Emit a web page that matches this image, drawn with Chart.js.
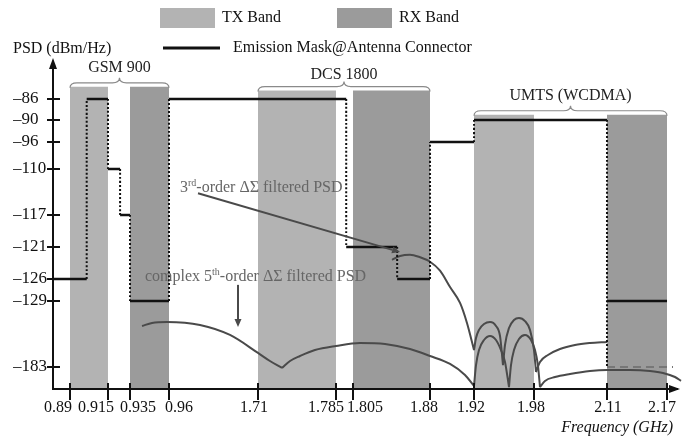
<!DOCTYPE html>
<html>
<head>
<meta charset="utf-8">
<script src="https://cdn.jsdelivr.net/npm/chart.js@4.4.1/dist/chart.umd.min.js"></script>
<style>
  html, body { margin: 0; padding: 0; background: #fff; }
</style>
</head>
<body>
<canvas id="psdChart" width="686" height="438"></canvas>
<script>
// ---- data ----
const xTicks = [0.89, 0.915, 0.935, 0.96, 1.71, 1.785, 1.805, 1.88, 1.92, 1.98, 2.11, 2.17]; // GHz
const yTicks = [-86, -90, -96, -110, -117, -121, -126, -129, -183]; // dBm/Hz

const bandNames = ["GSM 900", "DCS 1800", "UMTS (WCDMA)"];
const txBands = [[0.89, 0.915], [1.71, 1.785], [1.92, 1.98]];
const rxBands = [[0.935, 0.96], [1.805, 1.88], [2.11, 2.17]];
const bandTop = [-83.7, -84.4, -89.0];

// emission mask, steps (null = break)
const maskFreq = [0.8788, 0.901, 0.901, 0.915, 0.915, 0.926, 0.926, 0.935, 0.935, 0.96, 0.96, 1.797, 1.797, 1.848, 1.848, 1.88, 1.88, 1.92, 1.92, 2.11, 2.11, 2.11, 2.11, 2.17];
const maskLevel = [-126, -126, -86, -86, -110, -110, -117, -117, -129, -129, -86, -86, -121, -121, -126, -126, -96, -96, -90, -90, -183, null, -129, -129];

const floorFreq = [2.11, 2.176];
const floorLevel = [-183, -183];

// 3rd-order filtered PSD (arcs split at nulls)
const psd3Freq = [
  1.843, 1.8508, 1.8605, 1.8703, 1.88, 1.8891, 1.8982, 1.9073, 1.9136, 1.92,
  1.92,
  1.92, 1.922, 1.925, 1.930, 1.936, 1.942, 1.946, 1.949,
  1.949,
  1.949, 1.951, 1.955, 1.960, 1.965, 1.971, 1.976, 1.98, 1.9836,
  1.9836,
  1.9836, 1.9907, 2.0049, 2.0263, 2.053, 2.0797, 2.11
];
const psd3Level = [
  -123.0, -122.4, -122.2, -122.6, -123.3, -124.7, -127.1, -130.6, -147.0, -169.1,
  null,
  -169.1, -159.3, -152.6, -147.8, -146.2, -149.4, -157.6, -181.4,
  null,
  -181.4, -165.0, -151.1, -144.5, -142.9, -145.4, -152.6, -169.1, -187.1,
  null,
  -187.1, -178.9, -173.2, -168.3, -165.0, -163.4, -162.5
];

// complex 5th-order filtered PSD
const psd5Freq = [
  0.9427, 0.9491, 0.9587, 1.2212, 1.474, 1.71, 1.7215, 1.7331,
  1.7331,
  1.7331, 1.7408, 1.7504, 1.7648, 1.785, 1.8118, 1.8362, 1.8605, 1.88, 1.8982, 1.9118, 1.92,
  1.92,
  1.92, 1.922, 1.925, 1.930, 1.936, 1.942, 1.947, 1.951, 1.955,
  1.955,
  1.955, 1.957, 1.960, 1.965, 1.971, 1.977, 1.9818, 1.987, 1.9907,
  1.9907,
  1.9907, 1.9996, 2.0174, 2.0441, 2.0797, 2.11, 2.133, 2.153, 2.166, 2.178, 2.184,
  2.184,
  2.184, 2.186, 2.189
];
const psd5Level = [
  -149.4, -147.0, -146.2, -148.6, -156.8, -171.5, -178.1, -183.8,
  null,
  -183.8, -178.1, -174.0, -169.1, -165.8, -163.4, -164.2, -168.3, -174.0, -180.5, -189.5, -198.5,
  null,
  -198.5, -181.4, -169.1, -160.9, -157.6, -160.9, -169.1, -178.9, -199.4,
  null,
  -199.4, -181.4, -169.1, -160.1, -156.8, -160.9, -169.1, -181.4, -199.4,
  null,
  -199.4, -194.4, -191.2, -188.7, -186.3, -185.5, -185.5, -186.3, -187.9, -191.2, -194.4,
  null,
  -194.4, -189.5, -175.6
];

// ---- broken (piecewise) axes ----
const axisBreaks = {
  x: {
    vals: [0.8788, 0.89, 0.915, 0.935, 0.96, 1.71, 1.785, 1.805, 1.88, 1.92, 1.98, 2.11, 2.17, 2.18],
    fracs: [0, 0.0272, 0.0881, 0.1234, 0.1859, 0.3285, 0.4535, 0.4808, 0.6042, 0.6747, 0.7708, 0.8878, 0.984, 1],
  },
  y: {
    vals: [-201, -183, -129, -126, -121, -117, -110, -96, -90, -86, -79],
    fracs: [0, 0.0673, 0.2691, 0.3364, 0.4343, 0.5321, 0.6728, 0.7554, 0.8226, 0.8869, 1],
  },
};

function toFrac(b, v) {
  let i = 0;
  while (i < b.vals.length - 2 && v > b.vals[i + 1]) i++;
  const t = (v - b.vals[i]) / (b.vals[i + 1] - b.vals[i]);
  return b.fracs[i] + t * (b.fracs[i + 1] - b.fracs[i]);
}
function fromFrac(b, f) {
  let i = 0;
  while (i < b.fracs.length - 2 && f > b.fracs[i + 1]) i++;
  const t = (f - b.fracs[i]) / (b.fracs[i + 1] - b.fracs[i]);
  return b.vals[i] + t * (b.vals[i + 1] - b.vals[i]);
}

class BrokenScale extends Chart.LinearScale {
  getPixelForValue(value) {
    if (value === null || value === undefined || isNaN(value)) return NaN;
    return this.getPixelForDecimal(toFrac(axisBreaks[this.id], value));
  }
  getValueForPixel(pixel) {
    return fromFrac(axisBreaks[this.id], this.getDecimalForPixel(pixel));
  }
}
BrokenScale.id = "broken";
BrokenScale.defaults = Chart.LinearScale.defaults;
Chart.register(BrokenScale);

// ---- styles ----
const SERIF = '"Liberation Serif", "DejaVu Serif", serif';
const TX_COLOR = "#b3b3b3";
const RX_COLOR = "#9b9b9b";
const INK = "#111";
const CURVE = "#4a4a4a";
const NOTE = "#666";
const xLabelShift = [-12, -12, 8, 10, -4, -10, 12, -6, -3, -3, 1, -5];

const pts = (xs, ys) => xs.map((f, i) => ({ x: f, y: ys[i] }));

const datasets = [];
txBands.forEach((b, i) => {
  datasets.push({
    label: "TX Band",
    data: [{ x: b[0], y: bandTop[i] }, { x: b[1], y: bandTop[i] }],
    fill: "start", backgroundColor: TX_COLOR, borderColor: "transparent",
    borderWidth: 0, pointRadius: 0, order: 10,
  });
});
rxBands.forEach((b, i) => {
  datasets.push({
    label: "RX Band",
    data: [{ x: b[0], y: bandTop[i] }, { x: b[1], y: bandTop[i] }],
    fill: "start", backgroundColor: RX_COLOR, borderColor: "transparent",
    borderWidth: 0, pointRadius: 0, order: 10,
  });
});
datasets.push({
  label: "3rd-order filtered PSD",
  data: pts(psd3Freq, psd3Level),
  borderColor: CURVE, borderWidth: 2, pointRadius: 0,
  cubicInterpolationMode: "monotone", fill: false, clip: false, order: 4,
});
datasets.push({
  label: "complex 5th-order filtered PSD",
  data: pts(psd5Freq, psd5Level),
  borderColor: CURVE, borderWidth: 2, pointRadius: 0,
  cubicInterpolationMode: "monotone", fill: false, clip: false, order: 4,
});
datasets.push({
  label: "floor",
  data: pts(floorFreq, floorLevel),
  borderColor: "#777", borderWidth: 2, borderDash: [8, 5], pointRadius: 0,
  fill: false, clip: false, order: 3,
});
const vertical = (c) => c.p0.parsed.x === c.p1.parsed.x;
datasets.push({
  label: "Emission Mask@Antenna Connector",
  data: pts(maskFreq, maskLevel),
  // tiny tension keeps Chart.js off its fast path, which retraces vertical runs
  borderColor: INK, borderWidth: 2.5, pointRadius: 0, tension: 1e-6, fill: false, order: 1,
  segment: {
    borderDash: (c) => (vertical(c) ? [2, 2] : undefined),
    borderWidth: (c) => (vertical(c) ? 2 : undefined),
  },
});

// ---- drawing helpers ----
function drawBrace(ctx, x0, x1, base, h) {
  const xm = (x0 + x1) / 2, ym = base - h / 2, r = 7;
  ctx.beginPath();
  ctx.moveTo(x0, base);
  ctx.quadraticCurveTo(x0, ym, x0 + r, ym);
  ctx.lineTo(xm - r, ym);
  ctx.quadraticCurveTo(xm, ym, xm, base - h);
  ctx.quadraticCurveTo(xm, ym, xm + r, ym);
  ctx.lineTo(x1 - r, ym);
  ctx.quadraticCurveTo(x1, ym, x1, base);
  ctx.stroke();
}
function drawArrow(ctx, x0, y0, x1, y1, color) {
  const a = Math.atan2(y1 - y0, x1 - x0), L = 8, W = 3.5;
  ctx.strokeStyle = color; ctx.fillStyle = color; ctx.lineWidth = 2;
  ctx.beginPath();
  ctx.moveTo(x0, y0);
  ctx.lineTo(x1 - L * Math.cos(a), y1 - L * Math.sin(a));
  ctx.stroke();
  ctx.beginPath();
  ctx.moveTo(x1, y1);
  ctx.lineTo(x1 - L * Math.cos(a) + W * Math.sin(a), y1 - L * Math.sin(a) - W * Math.cos(a));
  ctx.lineTo(x1 - L * Math.cos(a) - W * Math.sin(a), y1 - L * Math.sin(a) + W * Math.cos(a));
  ctx.closePath();
  ctx.fill();
}
// text with superscript parts: [[text, isSup], ...]
function supText(ctx, parts, x, y, size, color) {
  ctx.fillStyle = color;
  ctx.textAlign = "left";
  ctx.textBaseline = "middle";
  parts.forEach(([t, sup]) => {
    const s = sup ? Math.round(size * 0.6) : size;
    ctx.font = s + "px " + SERIF;
    ctx.fillText(t, x, sup ? y - size * 0.3 : y);
    x += ctx.measureText(t).width;
  });
}

// annotation anchors in data units
const notes = [
  { parts: [["3", 0], ["rd", 1], ["-order \u0394\u03A3 filtered PSD", 0]], at: [1.0527, -112.9],
    from: [1.2044, -113.7], to: [1.8508, -121.8] },
  { parts: [["complex 5", 0], ["th", 1], ["-order \u0394\u03A3 filtered PSD", 0]], at: [0.9446, -125.7],
    from: [1.5415, -126.8], to: [1.5415, -150.3] },
];
const groupLabelLift = [20, 17, 20];

const deco = {
  id: "deco",
  afterDatasetsDraw(chart) {
    const { ctx, scales: { x, y } } = chart;
    ctx.save();
    // band group braces
    ctx.strokeStyle = "#8a8a8a";
    ctx.lineWidth = 1.2;
    bandNames.forEach((name, i) => {
      const x0 = x.getPixelForValue(txBands[i][0]);
      const x1 = x.getPixelForValue(rxBands[i][1]);
      const base = y.getPixelForValue(bandTop[i]) + 1;
      drawBrace(ctx, x0, x1, base, 10);
      ctx.fillStyle = "#222";
      ctx.font = "16px " + SERIF;
      ctx.textAlign = "center";
      ctx.textBaseline = "middle";
      ctx.fillText(name, (x0 + x1) / 2, base - groupLabelLift[i]);
    });
    // annotations
    notes.forEach((n) => {
      supText(ctx, n.parts, x.getPixelForValue(n.at[0]), y.getPixelForValue(n.at[1]), 16, NOTE);
      drawArrow(ctx,
        x.getPixelForValue(n.from[0]), y.getPixelForValue(n.from[1]),
        x.getPixelForValue(n.to[0]), y.getPixelForValue(n.to[1]), CURVE);
    });
    ctx.restore();
  },
  afterDraw(chart) {
    const { ctx, chartArea: ca, scales: { x, y } } = chart;
    ctx.save();
    ctx.strokeStyle = INK;
    ctx.fillStyle = INK;
    ctx.lineWidth = 2;
    // tick marks crossing the axes
    xTicks.forEach((v) => {
      const px = Math.round(x.getPixelForValue(v));
      ctx.beginPath(); ctx.moveTo(px, ca.bottom - 6); ctx.lineTo(px, ca.bottom + 11); ctx.stroke();
    });
    yTicks.forEach((v) => {
      const py = Math.round(y.getPixelForValue(v));
      ctx.beginPath(); ctx.moveTo(ca.left - 6, py); ctx.lineTo(ca.left + 7, py); ctx.stroke();
    });
    // axis arrows
    ctx.beginPath();
    ctx.moveTo(ca.left, ca.top - 4); ctx.lineTo(ca.left - 4, ca.top + 7); ctx.lineTo(ca.left + 4, ca.top + 7);
    ctx.closePath(); ctx.fill();
    ctx.beginPath();
    ctx.moveTo(ca.right + 3, ca.bottom); ctx.lineTo(ca.right - 8, ca.bottom - 4); ctx.lineTo(ca.right - 8, ca.bottom + 4);
    ctx.closePath(); ctx.fill();
    // x tick labels (shifted apart where crowded)
    ctx.font = "16px " + SERIF;
    ctx.textAlign = "center";
    ctx.textBaseline = "middle";
    xTicks.forEach((v, i) => {
      ctx.fillText(String(v), x.getPixelForValue(v) + xLabelShift[i], ca.bottom + 19);
    });
    // axis titles
    ctx.textAlign = "right";
    ctx.font = "italic 16px " + SERIF;
    ctx.fillText("Frequency (GHz)", ca.right - 4, ca.bottom + 39);
    ctx.textAlign = "left";
    ctx.font = "16px " + SERIF;
    ctx.fillText("PSD (dBm/Hz)", 13, 49);
    // legend
    ctx.fillStyle = TX_COLOR; ctx.fillRect(160, 8, 55, 20);
    ctx.fillStyle = RX_COLOR; ctx.fillRect(337, 8, 55, 20);
    ctx.fillStyle = INK;
    ctx.fillText("TX Band", 222, 18);
    ctx.fillText("RX Band", 399, 18);
    ctx.lineWidth = 3;
    ctx.beginPath(); ctx.moveTo(163, 48); ctx.lineTo(220, 48); ctx.stroke();
    ctx.fillText("Emission Mask@Antenna Connector", 233, 48);
    ctx.restore();
  },
};

const psdChart = new Chart(document.getElementById("psdChart"), {
  type: "line",
  data: { datasets },
  options: {
    responsive: false,
    animation: false,
    events: [],
    layout: { padding: { left: 13, right: 9, top: 62, bottom: 0 } },
    plugins: { legend: { display: false }, tooltip: { enabled: false } },
    scales: {
      x: {
        type: "broken",
        min: 0.8788,
        max: 2.18,
        afterBuildTicks: (s) => { s.ticks = xTicks.map((v) => ({ value: v })); },
        afterFit: (s) => { s.height = 49; },
        grid: { display: false },
        border: { display: true, color: INK, width: 2, z: 1 },
        ticks: { display: false },
      },
      y: {
        type: "broken",
        min: -201,
        max: -79,
        afterBuildTicks: (s) => { s.ticks = yTicks.map((v) => ({ value: v })); },
        afterFit: (s) => { s.width = 40; },
        grid: { display: false },
        border: { display: true, color: INK, width: 2, z: 1 },
        ticks: {
          autoSkip: false,
          crossAlign: "far",
          padding: 0,
          color: INK,
          font: { family: SERIF, size: 17 },
          callback: (v) => "\u2013" + Math.abs(v),
        },
      },
    },
  },
  plugins: [deco],
});
</script>
</body>
</html>
